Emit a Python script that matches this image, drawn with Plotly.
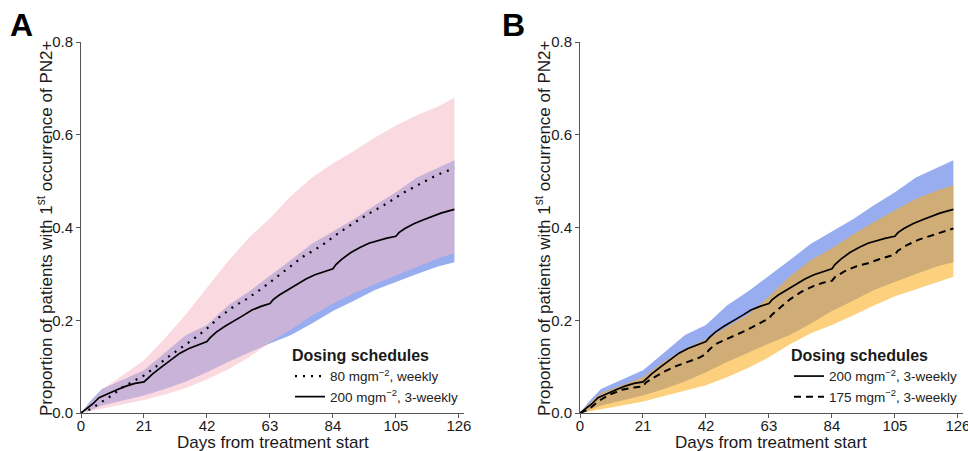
import plotly.graph_objects as go

# ---------------- data ----------------
band_days = [0, 3, 7, 14, 21, 28, 35, 42, 49, 56, 63, 70, 77, 84, 91, 98, 105, 112, 119, 124.5]

# 200 mg/m2 3-weekly (blue band)
q3w200_upper = [0, 0.025, 0.052, 0.072, 0.092, 0.13, 0.168, 0.19, 0.232, 0.262, 0.295, 0.33, 0.365,
                0.392, 0.418, 0.448, 0.476, 0.508, 0.528, 0.545]
q3w200_lower = [0, 0.006, 0.016, 0.027, 0.038, 0.052, 0.068, 0.088, 0.11, 0.13, 0.15, 0.168, 0.193,
                0.22, 0.242, 0.265, 0.282, 0.30, 0.316, 0.325]
# 80 mg/m2 weekly (pink band)
qw80_upper = [0, 0.022, 0.05, 0.082, 0.114, 0.161, 0.213, 0.27, 0.327, 0.378, 0.42, 0.468, 0.508,
              0.538, 0.565, 0.594, 0.62, 0.642, 0.661, 0.68]
qw80_lower = [0, 0.004, 0.01, 0.019, 0.028, 0.04, 0.054, 0.072, 0.094, 0.12, 0.152, 0.18, 0.21,
              0.236, 0.258, 0.278, 0.296, 0.315, 0.333, 0.345]
# 175 mg/m2 3-weekly (orange band)
q3w175_upper = [0, 0.02, 0.043, 0.06, 0.077, 0.111, 0.138, 0.159, 0.185, 0.212, 0.251, 0.295, 0.33,
                0.355, 0.385, 0.412, 0.437, 0.462, 0.48, 0.491]
q3w175_lower = [0, 0.003, 0.008, 0.016, 0.025, 0.036, 0.048, 0.06, 0.077, 0.097, 0.12, 0.148, 0.172,
                0.19, 0.21, 0.232, 0.252, 0.268, 0.282, 0.294]

# median lines
q3w200_days = [0, 2, 4, 6, 9, 12, 15, 18, 21, 22, 24, 27, 30, 33, 36, 39, 42, 43, 45, 48, 51, 54, 57,
               60, 63, 64, 66, 69, 72, 75, 78, 81, 84, 85, 87, 90, 93, 96, 99, 102, 105, 106, 108,
               111, 114, 117, 120, 124.5]
q3w200_med = [0, 0.01, 0.02, 0.033, 0.042, 0.05, 0.058, 0.064, 0.067, 0.073, 0.085, 0.1, 0.114, 0.129,
              0.139, 0.147, 0.154, 0.162, 0.174, 0.187, 0.198, 0.21, 0.222, 0.23, 0.236, 0.244, 0.254,
              0.266, 0.278, 0.289, 0.298, 0.305, 0.311, 0.32, 0.332, 0.346, 0.357, 0.366, 0.372, 0.377,
              0.381, 0.389, 0.398, 0.408, 0.416, 0.424, 0.431, 0.439]

qw80_days = [0, 3, 6, 10, 14, 18, 21, 25, 28, 33, 37, 42, 46, 51, 55, 60, 63, 68, 74, 80, 85, 90, 96,
             102, 107, 113, 118.6, 124.5]
qw80_med = [0, 0.008, 0.02, 0.037, 0.056, 0.071, 0.081, 0.1, 0.116, 0.139, 0.157, 0.182, 0.206, 0.23,
            0.245, 0.267, 0.282, 0.307, 0.337, 0.36, 0.384, 0.406, 0.43, 0.452, 0.473, 0.494, 0.513,
            0.528]

q3w175_days = [0, 3, 6, 10, 14, 18, 21, 22, 25, 28, 32, 36, 40, 42, 43, 45, 48, 52, 56, 60, 63, 64, 67,
               70, 74, 78, 81, 84, 85, 88, 92, 96, 100, 105, 106, 109, 113, 118, 124.5]
q3w175_med = [0, 0.008, 0.025, 0.04, 0.05, 0.055, 0.057, 0.066, 0.078, 0.089, 0.101, 0.11, 0.12, 0.127,
              0.136, 0.148, 0.157, 0.168, 0.18, 0.194, 0.204, 0.212, 0.228, 0.245, 0.262, 0.274, 0.281,
              0.285, 0.293, 0.305, 0.316, 0.323, 0.332, 0.342, 0.35, 0.362, 0.374, 0.384, 0.398]

x_ticks = [0, 21, 42, 63, 84, 105, 126]
y_ticks = [0.0, 0.2, 0.4, 0.6, 0.8]

x_title = "Days from treatment start"
y_title = "Proportion of patients with 1<sup>st</sup> occurrence of PN2+"
legend_title = "Dosing schedules"
name_qw80 = "80 mgm<sup>\u22122</sup>, weekly"
name_q3w200 = "200 mgm<sup>\u22122</sup>, 3-weekly"
name_q3w175 = "175 mgm<sup>\u22122</sup>, 3-weekly"

# ---------------- styles ----------------
FONT = "Liberation Sans, Arial, sans-serif"
BLUE = "rgb(152,173,240)"
PINK = "rgba(245,185,196,0.53)"
ORANGE = "rgba(251,172,26,0.57)"
TXT = "#1a1a1a"
AX = "#555555"


def band(days, lower, upper, color, xa, ya):
    return go.Scatter(x=list(days) + list(days[::-1]), y=list(upper) + list(lower[::-1]),
                      fill="toself", fillcolor=color, line=dict(width=0), mode="lines",
                      hoverinfo="skip", showlegend=False, xaxis=xa, yaxis=ya)


fig = go.Figure()
# Panel A
fig.add_trace(band(band_days, q3w200_lower, q3w200_upper, BLUE, "x", "y"))
fig.add_trace(band(band_days, qw80_lower, qw80_upper, PINK, "x", "y"))
fig.add_trace(go.Scatter(x=qw80_days, y=qw80_med, mode="lines", name=name_qw80,
                         line=dict(color="black", width=2.2, dash="2px,6px"),
                         xaxis="x", yaxis="y", legend="legend"))
fig.add_trace(go.Scatter(x=q3w200_days, y=q3w200_med, mode="lines", name=name_q3w200,
                         line=dict(color="black", width=1.7),
                         xaxis="x", yaxis="y", legend="legend"))
# Panel B
fig.add_trace(band(band_days, q3w200_lower, q3w200_upper, BLUE, "x2", "y2"))
fig.add_trace(band(band_days, q3w175_lower, q3w175_upper, ORANGE, "x2", "y2"))
fig.add_trace(go.Scatter(x=q3w200_days, y=q3w200_med, mode="lines", name=name_q3w200,
                         line=dict(color="black", width=1.7),
                         xaxis="x2", yaxis="y2", legend="legend2"))
fig.add_trace(go.Scatter(x=q3w175_days, y=q3w175_med, mode="lines", name=name_q3w175,
                         line=dict(color="black", width=2, dash="7px,5px"),
                         xaxis="x2", yaxis="y2", legend="legend2"))

W, H = 968, 451
ytop, ybot = 1 - 42 / H, 1 - 413 / H

xcommon = dict(range=[0, 127.7], tickvals=x_ticks, ticks="outside", ticklen=4, tickwidth=1,
               tickcolor=AX, showline=True, linecolor=AX, linewidth=1, showgrid=False,
               zeroline=False, automargin=False, ticklabeloverflow="allow", ticklabelstandoff=-5,
               tickfont=dict(family=FONT, size=15, color=TXT))
ycommon = dict(range=[0, 0.8], tickvals=y_ticks, tickformat=".1f", ticks="outside", ticklen=4,
               tickwidth=1, tickcolor=AX, showline=True, linecolor=AX, linewidth=1,
               showgrid=False, zeroline=False, automargin=False, ticklabeloverflow="allow",
               tickfont=dict(family=FONT, size=15, color=TXT))

legend_common = dict(bgcolor="rgba(0,0,0,0)", font=dict(family=FONT, size=13.5, color="#222222"),
                     xanchor="left", yanchor="top", itemwidth=30, tracegroupgap=0,
                     title=dict(text="<b>" + legend_title + "</b>",
                                font=dict(family=FONT, size=16, color=TXT)))


def txt(text, x, y, size, angle=0, bold=False):
    return dict(text=("<b>%s</b>" % text) if bold else text, x=x / W, y=1 - y / H,
                xref="paper", yref="paper", xanchor="center", yanchor="middle",
                showarrow=False, textangle=angle,
                font=dict(family=FONT, size=size, color="black" if bold else TXT))


fig.update_layout(
    width=W, height=H, template="none",
    paper_bgcolor="white", plot_bgcolor="white",
    margin=dict(l=0, r=0, t=0, b=0),
    xaxis=dict(xcommon, domain=[81 / W, 464 / W], anchor="y"),
    yaxis=dict(ycommon, domain=[ybot, ytop], anchor="x"),
    xaxis2=dict(xcommon, domain=[580 / W, 963 / W], anchor="y2"),
    yaxis2=dict(ycommon, domain=[ybot, ytop], anchor="x2"),
    legend=dict(legend_common, x=290 / W, y=1 - 340 / H),
    legend2=dict(legend_common, x=789 / W, y=1 - 340 / H),
    annotations=[
        txt("A", 21, 25, 32, bold=True),
        txt("B", 513, 25, 32, bold=True),
        txt(x_title, 273, 442, 17),
        txt(x_title, 771, 442, 17),
        txt(y_title, 45, 229, 17, angle=-90),
        txt(y_title, 543, 229, 17, angle=-90),
    ],
)

fig.write_html("out.html", config={"displayModeBar": False},
               post_script="document.body.style.margin='0';")
